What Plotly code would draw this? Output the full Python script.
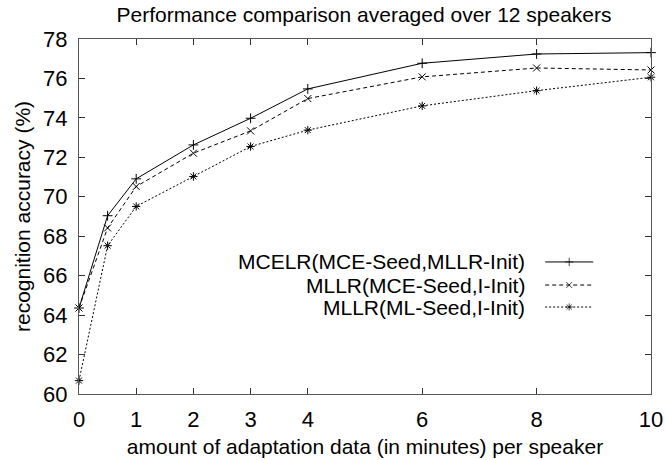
import plotly.graph_objects as go

minutes = [0, 0.5, 1, 2, 3, 4, 6, 8, 10]
mcelr = [64.36, 69.04, 70.91, 72.63, 73.98, 75.47, 76.77, 77.24, 77.31]
mllr_mce = [64.36, 68.42, 70.52, 72.21, 73.34, 74.98, 76.08, 76.53, 76.43]
mllr_ml = [60.68, 67.52, 69.51, 71.03, 72.55, 73.38, 74.61, 75.38, 76.06]

series_names = ["MCELR(MCE-Seed,MLLR-Init)", "MLLR(MCE-Seed,I-Init)", "MLLR(ML-Seed,I-Init)"]
series_vals = [mcelr, mllr_mce, mllr_ml]
dashes = ["solid", "4px,3px", "2px,2px"]
symbols = ["cross-thin-open", "x-thin-open", "asterisk-open"]

x_ticks = [0, 1, 2, 3, 4, 6, 8, 10]
y_ticks = list(range(60, 79, 2))

FONT = "Liberation Sans, Arial, sans-serif"

fig = go.Figure()
for name, vals, d, s in zip(series_names, series_vals, dashes, symbols):
    fig.add_trace(go.Scatter(
        x=minutes, y=vals, mode="lines+markers", name=name,
        line=dict(color="black", width=1, dash=d),
        marker=dict(symbol=s, size=7, color="black", line=dict(color="black", width=1)),
        showlegend=False, cliponaxis=False,
    ))

# custom gnuplot-style legend (text right-aligned, sample to the right)
leg_y = [0.372, 0.307, 0.245]
for name, d, s, yy in zip(series_names, dashes, symbols, leg_y):
    fig.add_trace(go.Scatter(
        x=[0.815, 0.857, 0.899], y=[yy, yy, yy], xaxis="x2", yaxis="y2",
        mode="lines+markers", showlegend=False, hoverinfo="skip",
        line=dict(color="black", width=1, dash=d),
        marker=dict(symbol=s, size=[0, 6, 0], color="black", line=dict(color="black", width=1)),
    ))
    fig.add_annotation(x=0.784, y=yy, xref="paper", yref="paper", text=name,
                       showarrow=False, xanchor="right", yanchor="middle",
                       font=dict(family=FONT, size=21, color="black"))

axis_common = dict(showgrid=False, zeroline=False, showline=True, linecolor="#555",
                   linewidth=1, mirror="ticks", ticks="inside", ticklen=6,
                   tickcolor="#333", tickwidth=1, automargin=False,
                   tickfont=dict(family=FONT, size=22, color="black"))

fig.update_layout(
    width=665, height=460,
    margin=dict(l=79, r=14, t=39, b=66),
    paper_bgcolor="white", plot_bgcolor="white",
    title=dict(text="Performance comparison averaged over 12 speakers",
               x=0.5475, xanchor="center", y=0.968, yanchor="middle",
               font=dict(family=FONT, size=21, color="black")),
    xaxis=dict(range=[0, 10], tickvals=x_ticks, ticktext=[str(t) for t in x_ticks],
               title=dict(text="amount of adaptation data (in minutes) per speaker",
                          font=dict(family=FONT, size=21, color="black"), standoff=7),
               ticklabelstandoff=6,
               **axis_common),
    yaxis=dict(range=[60, 78], tickvals=y_ticks,
               title=dict(text="recognition accuracy (%)",
                          font=dict(family=FONT, size=21, color="black"), standoff=6),
               ticklabelstandoff=6,
               **axis_common),
    xaxis2=dict(range=[0, 1], overlaying="x", visible=False, fixedrange=True),
    yaxis2=dict(range=[0, 1], overlaying="y", visible=False, fixedrange=True),
    showlegend=False,
)

fig.write_html("out.html")
